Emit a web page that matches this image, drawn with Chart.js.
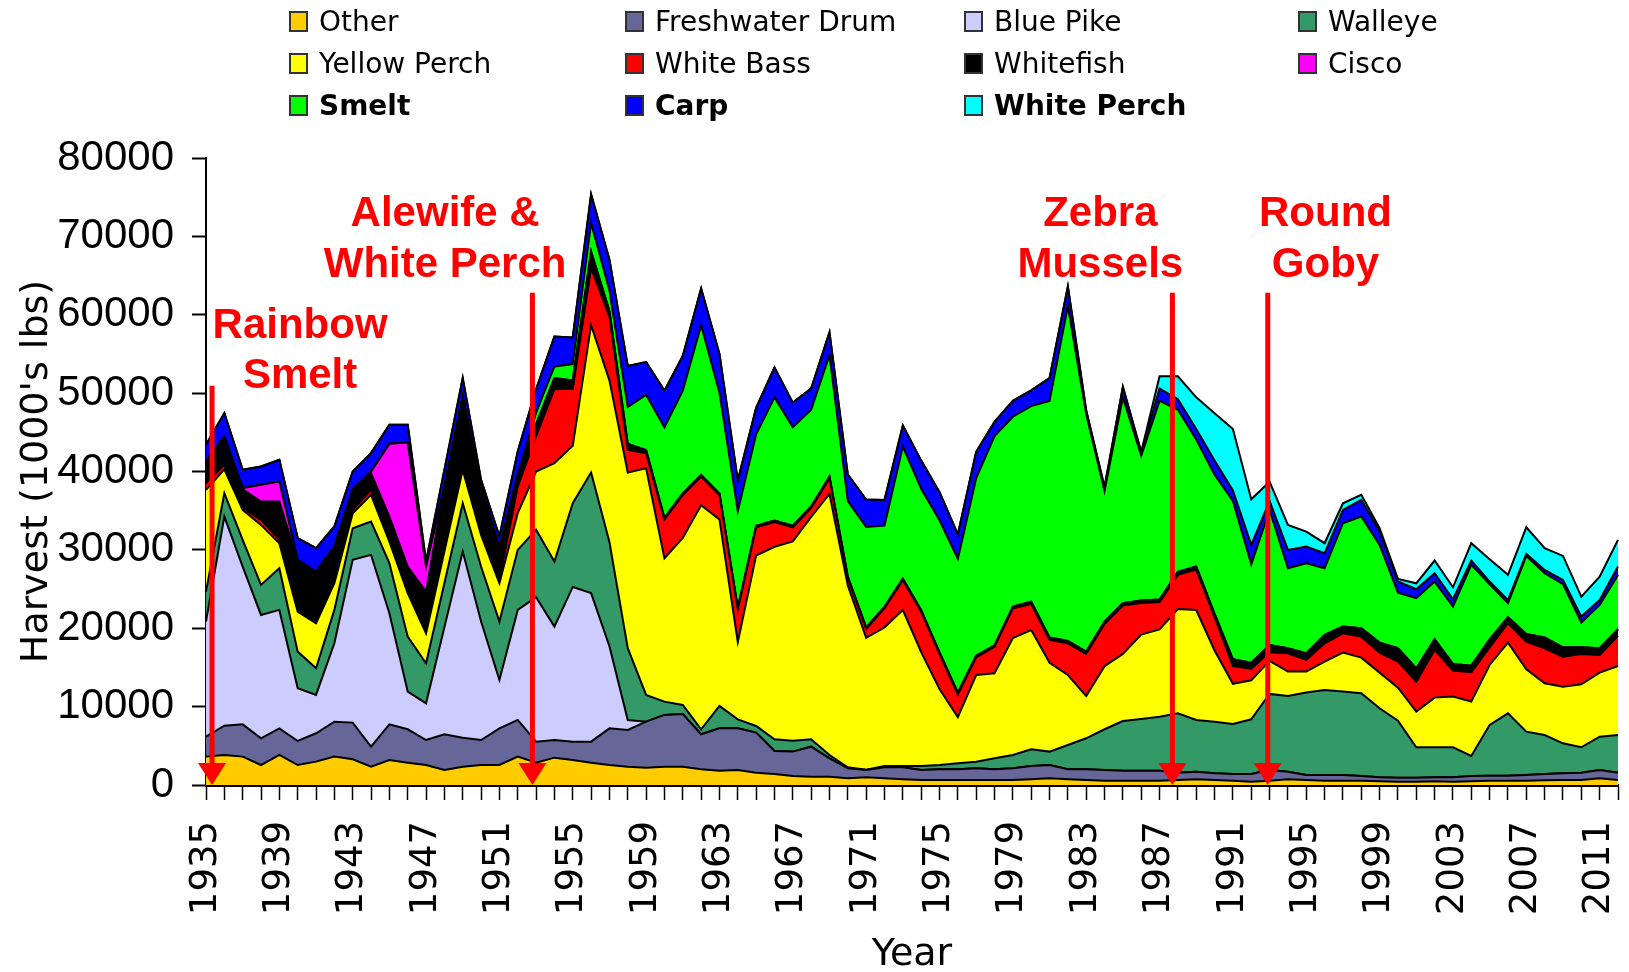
<!DOCTYPE html>
<html>
<head>
<meta charset="utf-8">
<title>Lake Erie commercial harvest</title>
<script src="https://cdn.jsdelivr.net/npm/chart.js@4.4.0/dist/chart.umd.min.js"></script>
<style>
  html, body { margin: 0; padding: 0; background: #fff; }
  #wrap { position: relative; width: 1629px; height: 972px; }
  #legend {
    position: absolute; left: 289px; top: 0;
    display: grid; grid-template-columns: 336px 339px 334px 300px; grid-auto-rows: 42px;
    font-family: 'DejaVu Sans', Verdana, sans-serif; font-size: 28px; color: #000;
  }
  .item { display: flex; align-items: center; white-space: nowrap; }
  .box { width: 15px; height: 17px; border: 2px solid #333; margin-right: 11px; }
  .bold { font-weight: bold; }
</style>
</head>
<body>
<div id="wrap">
  <canvas id="chart" width="1629" height="972"></canvas>
  <div id="legend"></div>
</div>
<script>
/* ===== Harvest by species, stacked area ===== */

const YEARS = [
  1935, 1936, 1937, 1938, 1939, 1940, 1941, 1942, 1943, 1944,
  1945, 1946, 1947, 1948, 1949, 1950, 1951, 1952, 1953, 1954,
  1955, 1956, 1957, 1958, 1959, 1960, 1961, 1962, 1963, 1964,
  1965, 1966, 1967, 1968, 1969, 1970, 1971, 1972, 1973, 1974,
  1975, 1976, 1977, 1978, 1979, 1980, 1981, 1982, 1983, 1984,
  1985, 1986, 1987, 1988, 1989, 1990, 1991, 1992, 1993, 1994,
  1995, 1996, 1997, 1998, 1999, 2000, 2001, 2002, 2003, 2004,
  2005, 2006, 2007, 2008, 2009, 2010, 2011, 2012,
];

// harvest, 1000's lbs, one value per year
const OTHER = [
  3620, 3830, 3620, 2550, 3830, 2550, 2980, 3620, 3280, 2340,
  3190, 2850, 2550, 1910, 2340, 2550, 2550, 3620, 2850, 3490,
  3190, 2850, 2550, 2340, 2210, 2340, 2340, 2000, 1830, 1910,
  1570, 1400, 1150, 1060, 1060, 850, 980, 850, 720, 640,
  640, 640, 640, 640, 640, 720, 850, 720, 640, 550,
  550, 550, 550, 640, 720, 640, 550, 430, 550, 720,
  640, 550, 550, 550, 470, 430, 430, 470, 430, 470,
  550, 550, 550, 600, 640, 640, 850, 640,
];
const FRESHWATER_DRUM = [
  2550, 3740, 4120, 3410, 3400, 3070, 3620, 4460, 4680, 2550,
  4550, 4260, 3190, 4560, 3700, 3190, 4680, 4680, 2680, 2250,
  2340, 2680, 4680, 4680, 5870, 6600, 6720, 4470, 5400, 5320,
  5110, 2940, 3110, 3830, 2340, 1280, 930, 1400, 1530, 1270,
  1360, 1360, 1490, 1360, 1490, 1710, 1700, 1280, 1360, 1360,
  1280, 1280, 1280, 930, 980, 850, 850, 970, 1360, 980,
  640, 730, 730, 600, 510, 510, 510, 510, 550, 680,
  640, 640, 730, 800, 850, 930, 1060, 930,
];
const BLUE_PIKE = [
  14680, 26680, 20130, 15740, 15110, 6720, 4890, 10000, 20760, 24470,
  14170, 4800, 4680, 13660, 23750, 15110, 6170, 14040, 18440, 14470,
  19740, 18960, 10480, 1280, 0, 0, 0, 0, 0, 0,
  0, 0, 0, 0, 0, 0, 0, 0, 0, 0,
  0, 0, 0, 0, 0, 0, 0, 0, 0, 0,
  0, 0, 0, 0, 0, 0, 0, 0, 0, 0,
  0, 0, 0, 0, 0, 0, 0, 0, 0, 0,
  0, 0, 0, 0, 0, 0, 0, 0,
];
const WALLEYE = [
  3830, 2980, 3400, 3830, 5320, 4680, 3400, 4260, 4040, 4250,
  6390, 7020, 5110, 5610, 6160, 7020, 7450, 7660, 8600, 8300,
  10690, 15380, 13300, 9150, 3410, 1700, 1150, 640, 2850, 1150,
  850, 1490, 1400, 940, 430, 120, 50, 180, 180, 520,
  550, 770, 850, 1400, 1700, 2120, 1710, 3110, 3960, 5200,
  6340, 6590, 6890, 7580, 6600, 6590, 6390, 6980, 9710, 9660,
  10510, 10850, 10640, 10550, 8810, 7270, 3870, 3830, 3830, 2550,
  6470, 7960, 5530, 4980, 3830, 3240, 4260, 4810,
];
const YELLOW_PERCH = [
  12980, 3060, 3830, 7660, 3190, 5110, 5750, 3400, 1920, 3410,
  2760, 5540, 3830, 4050, 4260, 4040, 4890, 4680, 7430, 12550,
  7320, 18800, 20610, 22430, 28910, 18280, 21320, 28590, 23800, 9850,
  21750, 24570, 25410, 28380, 33300, 23220, 16830, 17660, 19900, 14520,
  9690, 5880, 11050, 10860, 14910, 15220, 11340, 8920, 5380, 8050,
  8560, 10770, 11140, 13310, 14030, 9090, 5120, 4980, 4210, 3110,
  2680, 3610, 4970, 4550, 4550, 4210, 4550, 6340, 6470, 6940,
  7660, 9020, 7950, 6600, 7230, 8040, 8170, 8810,
];
const WHITE_BASS = [
  850, 560, 220, 640, 430, 300, 200, 200, 420, 640,
  430, 420, 210, 200, 200, 430, 430, 3400, 4500, 9450,
  7290, 7300, 8090, 2870, 1930, 4960, 5480, 3660, 3130, 4170,
  3590, 3140, 1800, 1120, 2020, 900, 1120, 2460, 3810, 5160,
  4490, 2920, 2250, 3360, 3810, 3320, 2920, 4040, 5390, 5380,
  6180, 4040, 3500, 4350, 5160, 4260, 2250, 1480, 1120, 2340,
  1490, 2340, 2470, 2680, 2550, 3320, 3830, 6080, 3310, 3740,
  2250, 2470, 3540, 4470, 3830, 3870, 2250, 3830,
];
const WHITEFISH = [
  2760, 3610, 2420, 2340, 4890, 6080, 6390, 4480, 2560, 2120,
  2760, 2980, 5110, 8090, 9160, 5740, 4040, 1490, 1500, 1400,
  1050, 2080, 780, 780, 420, 200, 200, 200, 200, 200,
  200, 200, 200, 200, 200, 200, 200, 200, 200, 200,
  200, 200, 200, 200, 200, 300, 300, 300, 300, 300,
  300, 300, 300, 400, 400, 400, 890, 760, 900, 640,
  850, 1070, 850, 1070, 1280, 1710, 1700, 1360, 860, 850,
  1020, 760, 980, 1360, 1190, 850, 860, 850,
];
const CISCO = [
  0, 0, 130, 2130, 2550, 210, 0, 0, 0, 210,
  9280, 15830, 3190, 0, 0, 0, 0, 0, 0, 0,
  0, 0, 0, 0, 0, 0, 0, 0, 0, 0,
  0, 0, 0, 0, 0, 0, 0, 0, 0, 0,
  0, 0, 0, 0, 0, 0, 0, 0, 0, 0,
  0, 0, 0, 0, 0, 0, 0, 0, 0, 0,
  0, 0, 0, 0, 0, 0, 0, 0, 0, 0,
  0, 0, 0, 0, 0, 0, 0, 0,
];
const SMELT = [
  0, 0, 0, 0, 0, 0, 0, 0, 0, 0,
  0, 0, 0, 0, 0, 0, 0, 0, 1500, 1490,
  2090, 3660, 2610, 4700, 7040, 11540, 13110, 19110, 12850, 12320,
  11680, 15720, 12580, 12360, 15490, 9660, 12810, 10340, 16840, 15490,
  16840, 17060, 22670, 26710, 24240, 24950, 30190, 42750, 30270, 16660,
  26250, 18470, 25350, 20680, 16190, 17760, 20180, 12560, 17260, 10210,
  11490, 8510, 13190, 14250, 12470, 7100, 8940, 7370, 7310, 12850,
  7030, 1790, 9950, 8210, 8050, 3150, 5530, 6940,
];
const CARP = [
  2130, 2980, 2340, 2330, 2770, 2770, 2980, 2560, 2340, 2350,
  2420, 2250, 640, 2130, 2340, 850, 1490, 2980, 3000, 3830,
  3390, 3650, 3910, 5220, 4180, 4700, 4430, 4690, 4950, 3920,
  3360, 3810, 3140, 2690, 2910, 3360, 3500, 3280, 2690, 3590,
  3580, 3140, 3360, 1790, 2020, 2020, 2910, 2460, 500, 500,
  1340, 500, 1570, 1340, 1340, 1800, 1350, 2470, 1120, 2340,
  2120, 1910, 1700, 2130, 1700, 1410, 1150, 1060, 940, 560,
  340, 430, 260, 420, 550, 770, 640, 1060,
];
const WHITE_PERCH = [
  0, 0, 0, 0, 0, 0, 0, 0, 0, 0,
  0, 0, 0, 0, 0, 0, 0, 0, 0, 0,
  0, 0, 0, 0, 0, 0, 0, 0, 0, 0,
  0, 0, 0, 0, 0, 0, 0, 0, 0, 0,
  0, 0, 0, 0, 0, 0, 0, 0, 0, 0,
  0, 0, 1570, 2920, 4040, 6050, 7840, 5820, 2470, 3190,
  1920, 1280, 850, 640, 420, 340, 760, 1620, 1530, 2210,
  2850, 3190, 3400, 2770, 3060, 2550, 2970, 3400,
];

const Y_TICKS = [0, 10000, 20000, 30000, 40000, 50000, 60000, 70000, 80000];

// bottom to top, same order as the legend grid
const SERIES = [
  { label: 'Other', data: OTHER, color: '#FFCC00' },
  { label: 'Freshwater Drum', data: FRESHWATER_DRUM, color: '#666699' },
  { label: 'Blue Pike', data: BLUE_PIKE, color: '#CCCCFF' },
  { label: 'Walleye', data: WALLEYE, color: '#339966' },
  { label: 'Yellow Perch', data: YELLOW_PERCH, color: '#FFFF00' },
  { label: 'White Bass', data: WHITE_BASS, color: '#FF0000' },
  { label: 'Whitefish', data: WHITEFISH, color: '#000000' },
  { label: 'Cisco', data: CISCO, color: '#FF00FF' },
  { label: 'Smelt', data: SMELT, color: '#00FF00', bold: true },
  { label: 'Carp', data: CARP, color: '#0000FF', bold: true },
  { label: 'White Perch', data: WHITE_PERCH, color: '#00FFFF', bold: true },
];

// invasion markers: year of arrow, text centre, arrow start (data units)
const EVENTS = [
  { lines: ['Rainbow', 'Smelt'], year: 1935.33, textYear: 1940.13, textAt: [58470, 52080], arrowFrom: 50940 },
  { lines: ['Alewife &', 'White Perch'], year: 1952.8, textYear: 1948.04, textAt: [72770, 66260], arrowFrom: 62810 },
  { lines: ['Zebra', 'Mussels'], year: 1987.7, textYear: 1983.77, textAt: [72770, 66260], arrowFrom: 62810 },
  { lines: ['Round', 'Goby'], year: 1992.9, textYear: 1996.05, textAt: [72770, 66260], arrowFrom: 62810 },
];

const SANS = "'DejaVu Sans', Verdana, sans-serif";
const ARIAL = "'Liberation Sans', Arial, sans-serif";

/* ---------- Legend ---------- */

function renderLegend() {
  const box = document.getElementById('legend');
  SERIES.forEach(s => {
    const item = document.createElement('div');
    item.className = 'item' + (s.bold ? ' bold' : '');
    item.innerHTML = `<span class="box" style="background:${s.color}"></span><span>${s.label}</span>`;
    box.appendChild(item);
  });
}

/* ---------- Event arrows ---------- */

const eventMarkers = {
  id: 'eventMarkers',
  afterDatasetsDraw(chart) {
    const { ctx, scales: { x, y } } = chart;
    const idx = yr => yr - YEARS[0];
    const base = y.getPixelForValue(0);
    ctx.save();
    ctx.fillStyle = '#FF0000';
    ctx.strokeStyle = '#FF0000';
    ctx.font = 'bold 42px ' + ARIAL;
    ctx.textAlign = 'center';
    ctx.textBaseline = 'middle';
    EVENTS.forEach(ev => {
      const tx = x.getPixelForValue(idx(ev.textYear));
      ev.lines.forEach((t, k) => ctx.fillText(t, tx, y.getPixelForValue(ev.textAt[k])));

      const ax = x.getPixelForValue(idx(ev.year));
      ctx.lineWidth = 5;
      ctx.beginPath();
      ctx.moveTo(ax, y.getPixelForValue(ev.arrowFrom));
      ctx.lineTo(ax, base - 20);
      ctx.stroke();
      ctx.beginPath();
      ctx.moveTo(ax - 14, base - 22);
      ctx.lineTo(ax + 14, base - 22);
      ctx.lineTo(ax, base);
      ctx.closePath();
      ctx.fill();
    });
    ctx.restore();
  },
};

/* ---------- Chart ---------- */

function renderChart() {
  const datasets = SERIES.map((s, i) => ({
    label: s.label,
    data: s.data,
    backgroundColor: s.color,
    borderColor: '#000',
    borderWidth: 2,
    pointRadius: 0,
    tension: 0,
    fill: i === 0 ? 'origin' : '-1',
  }));

  new Chart(document.getElementById('chart'), {
    type: 'line',
    data: { labels: YEARS.map(String), datasets },
    options: {
      responsive: false,
      animation: false,
      events: [],
      layout: { padding: { top: 158, right: 11, left: 0, bottom: 0 } },
      plugins: {
        legend: { display: false },
        tooltip: { enabled: false },
      },
      scales: {
        x: {
          grid: { drawOnChartArea: false, drawTicks: true, tickLength: 15, tickColor: '#000', tickWidth: 1.5 },
          border: { display: true, color: '#000', width: 3 },
          ticks: {
            autoSkip: false,
            maxRotation: 90,
            minRotation: 90,
            padding: 21,
            color: '#000',
            font: { family: SANS, size: 37 },
            callback: (val, i) => ((YEARS[i] - YEARS[0]) % 4 === 0 ? String(YEARS[i]) : ''),
          },
          title: {
            display: true,
            text: 'Year',
            color: '#000',
            font: { family: SANS, size: 38, lineHeight: 1 },
            padding: { top: 0, bottom: -2 },
          },
          afterFit(scale) {
            scale.height = 187;
            scale.paddingLeft = 0;
            scale.paddingRight = 0;
          },
        },
        y: {
          stacked: true,
          min: 0,
          max: 80000,
          grid: { drawOnChartArea: false, drawTicks: true, tickLength: 14, tickColor: '#000', tickWidth: 2 },
          border: { display: true, color: '#000', width: 2 },
          afterBuildTicks(scale) {
            scale.ticks = Y_TICKS.map(v => ({ value: v }));
          },
          ticks: {
            padding: 18,
            color: '#000',
            font: { family: ARIAL, size: 42 },
            callback: v => String(v),
          },
          title: {
            display: true,
            text: "Harvest (1000's lbs)",
            color: '#000',
            font: { family: SANS, size: 38, lineHeight: 1 },
            padding: { top: 18, bottom: 0 },
          },
          afterFit(scale) {
            scale.width = 206;
            scale.paddingTop = 0;
            scale.paddingBottom = 0;
          },
        },
      },
    },
    plugins: [eventMarkers],
  });
}

renderLegend();
renderChart();
</script>
</body>
</html>
